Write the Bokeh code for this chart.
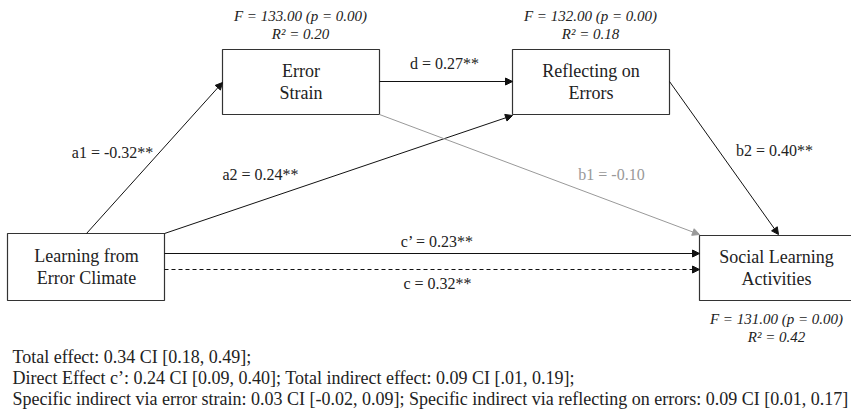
from bokeh.plotting import figure
from bokeh.models import Range1d, Arrow, NormalHead, ColumnDataSource
from bokeh.core.properties import value
from bokeh.embed import file_html
from bokeh.resources import INLINE

# ---- data ----
node_names = ["Learning from\nError Climate", "Error\nStrain", "Reflecting on\nErrors", "Social Learning\nActivities"]
path_labels = ["a1 = -0.32**", "a2 = 0.24**", "d = 0.27**", "b1 = -0.10", "b2 = 0.40**", "c\u2019 = 0.23**", "c = 0.32**"]
fit_f = ["F = 133.00 (p = 0.00)", "F = 132.00 (p = 0.00)", "F = 131.00 (p = 0.00)"]
fit_r2 = ["R\u00b2 = 0.20", "R\u00b2 = 0.18", "R\u00b2 = 0.42"]
notes = [
    "Total effect: 0.34 CI [0.18, 0.49];",
    "Direct Effect c\u2019: 0.24 CI [0.09, 0.40]; Total indirect effect: 0.09 CI [.01, 0.19];",
    "Specific indirect via error strain: 0.03 CI [-0.02, 0.09]; Specific indirect via reflecting on errors: 0.09 CI [0.01, 0.17]",
]

# ---- layout (page pixel coordinates) ----
boxes = dict(left=[7, 222, 512, 699], right=[164, 379, 669, 870],
             top=[233, 49, 49, 235], bottom=[300, 114, 114, 300])
node_xy = [(86, 266.5), (300.5, 81.5), (590.5, 81.5), (776, 267.5)]

FONT = value("Liberation Serif")

W, H = 851, 413
p = figure(width=W, height=H, output_backend="svg", toolbar_location=None,
           x_range=Range1d(0, W), y_range=Range1d(H, 0), min_border=0)
p.axis.visible = False
p.grid.visible = False
p.outline_line_color = None
p.background_fill_color = "white"

p.quad(left=boxes["left"], right=boxes["right"], top=boxes["top"], bottom=boxes["bottom"],
       fill_color="white", line_color="#333333", line_width=1.2)

p.text(x=[xy[0] for xy in node_xy], y=[xy[1] for xy in node_xy], text=node_names,
       text_font=FONT, text_font_size="18px", text_align="center", text_baseline="middle",
       text_color="#222222", text_line_height=1.1)

# arrows: a1, a2, d, b2, c'
arr = ColumnDataSource(dict(x0=[86, 164, 379, 669, 164], y0=[233, 233, 81, 81, 253],
                            x1=[222, 512, 512, 778, 699], y1=[82, 115, 81, 234, 253]))
p.add_layout(Arrow(end=NormalHead(size=7, fill_color="#111111", line_color="#111111"),
                   x_start="x0", y_start="y0", x_end="x1", y_end="y1", source=arr,
                   line_color="#111111", line_width=1))
# b1 gray
p.add_layout(Arrow(end=NormalHead(size=7, fill_color="#999999", line_color="#999999"),
                   x_start=379, y_start=114, x_end=699, y_end=234,
                   line_color="#999999", line_width=1))
# c dashed
p.add_layout(Arrow(end=NormalHead(size=7, fill_color="#111111", line_color="#111111"),
                   x_start=164, y_start=269, x_end=699, y_end=269,
                   line_color="#111111", line_width=1, line_dash="4 3"))

lab_x = [112, 260, 444, 611, 774, 437, 437]
lab_y = [152, 174, 63, 174, 150, 241, 283]
lab_c = ["#222222", "#222222", "#222222", "#999999", "#222222", "#222222", "#222222"]
p.text(x=lab_x, y=lab_y, text=path_labels, text_color=lab_c, text_font=FONT,
       text_font_size="16px", text_align="center", text_baseline="middle")

fx = [300, 590, 776]
p.text(x=fx, y=[15, 15, 318], text=fit_f, text_font=FONT, text_font_style="italic",
       text_font_size="15px", text_align="center", text_baseline="middle", text_color="#222222")
p.text(x=fx, y=[33, 33, 336], text=fit_r2, text_font=FONT, text_font_style="italic",
       text_font_size="15px", text_align="center", text_baseline="middle", text_color="#222222")

p.text(x=[12, 12, 12], y=[356, 377, 398], text=notes, text_font=FONT, text_font_size="18px",
       text_align="left", text_baseline="middle", text_color="#222222")

open("out.html", "w").write(file_html(p, INLINE))
